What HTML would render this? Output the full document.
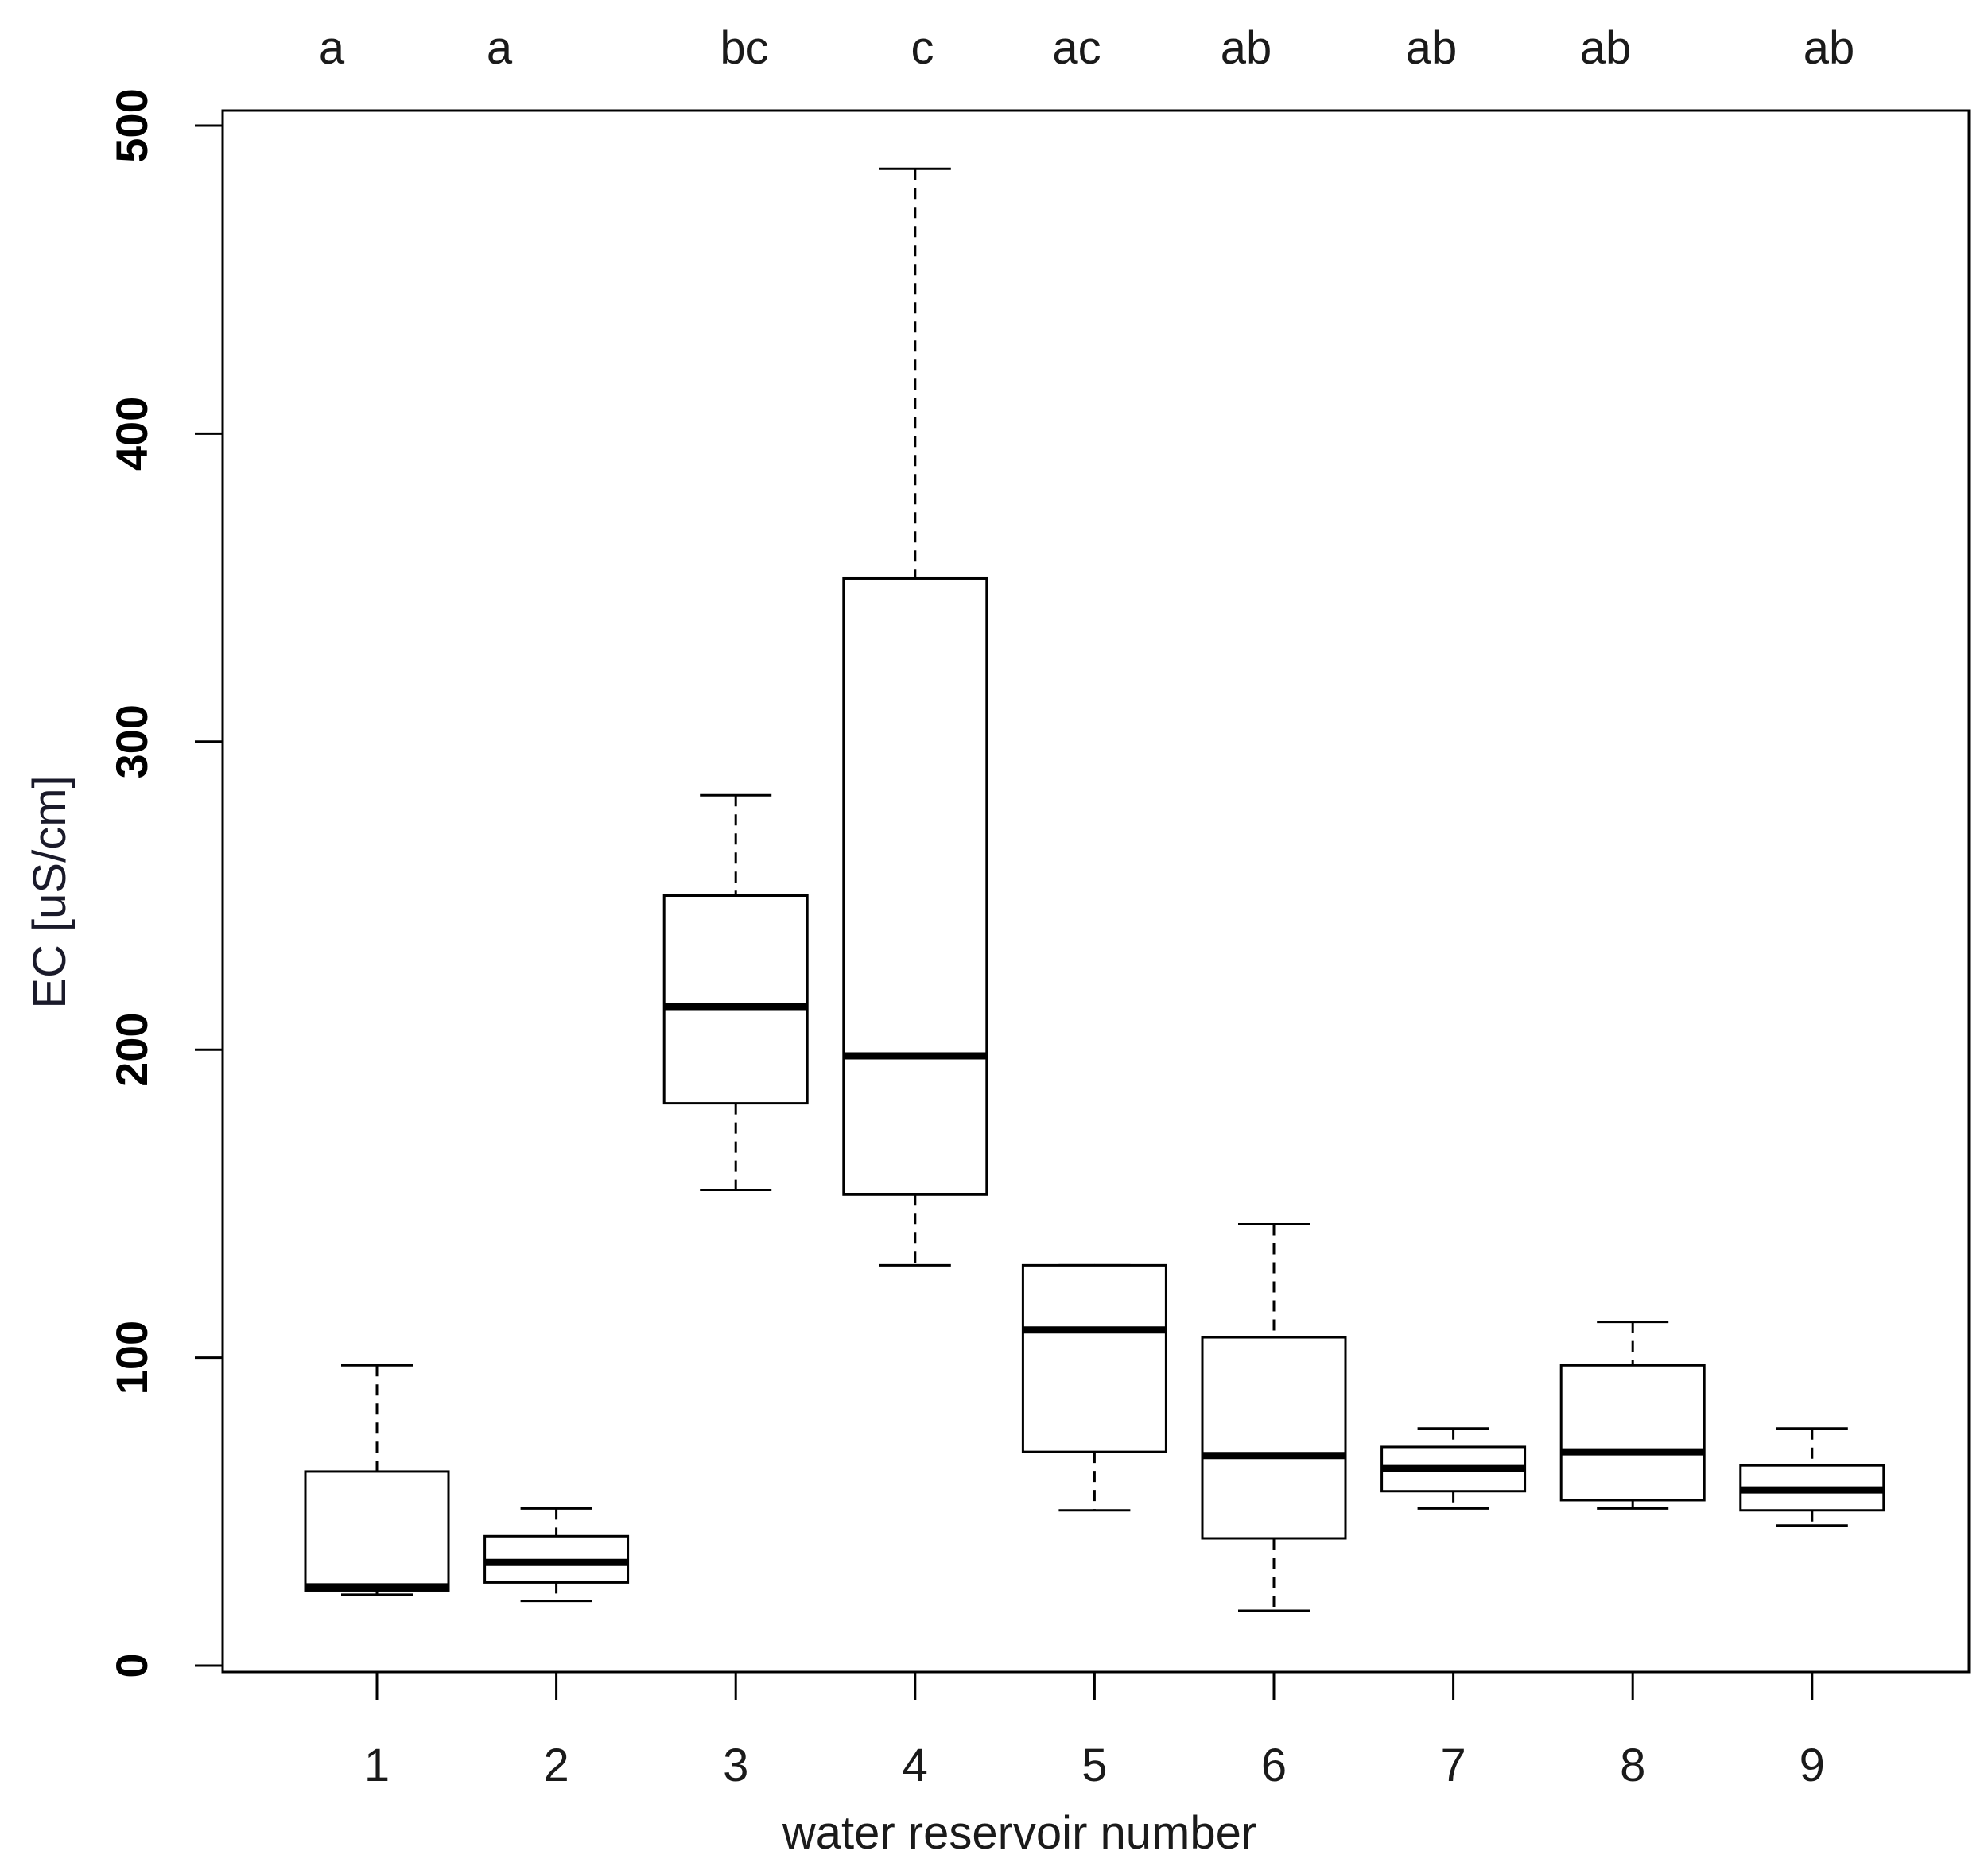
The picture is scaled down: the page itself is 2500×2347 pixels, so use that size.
<!DOCTYPE html>
<html><head><meta charset="utf-8"><style>
html,body{margin:0;padding:0;background:#fff;}
svg{display:block;font-family:"Liberation Sans",sans-serif;}
</style></head><body>
<svg id="chart" width="2500" height="2347" viewBox="0 0 2500 2347" xmlns="http://www.w3.org/2000/svg">
<rect width="2500" height="2347" fill="#fff"/>
<rect x="280" y="139" width="2196" height="1964" fill="none" stroke="#000" stroke-width="3"/>
<g id="marks"></g>
<text x="1282" y="2325" font-size="58" text-anchor="middle" fill="#1a1a1a">water reservoir number</text>
<text transform="translate(82,1122) rotate(-90)" font-size="58" text-anchor="middle" fill="#1a1a2a">EC [uS/cm]</text>
</svg>
<script>
const categories = ["1","2","3","4","5","6","7","8","9"];
const whiskerLow = [23, 21, 154.5, 130, 50.4, 17.8, 51, 51, 45.5];
const q1 = [24.4, 27, 182.6, 153, 69.4, 41.3, 56.6, 53.7, 50.4];
const medians = [25.6, 33.5, 214, 198, 109, 68.2, 64, 69.4, 57];
const q3 = [63, 42, 250, 353, 130, 106.6, 71, 97.5, 65];
const whiskerHigh = [97.5, 51, 282.6, 486, 130, 143.4, 77, 111.6, 77];
const groupLetters = ["a","a","bc","c","ac","ab","ab","ab","ab"];
const letterX = [417, 628, 936, 1160, 1354, 1567, 1800, 2019, 2300];
const yTicks = [0, 100, 200, 300, 400, 500];

const NS = "http://www.w3.org/2000/svg";
const g = document.getElementById("marks");
const y = v => 2095 - v * 3.874;
const x = i => 474 + i * 225.6;
function mk(tag, attrs, parent) {
  const e = document.createElementNS(NS, tag);
  for (const k in attrs) e.setAttribute(k, attrs[k]);
  (parent || g).appendChild(e);
  return e;
}
yTicks.forEach(t => {
  const l = mk("line", {x1: 245, x2: 280, y1: y(t), y2: y(t), stroke: "#000", "stroke-width": 3});
  
  
  const tx = mk("text", {transform: `translate(185,${y(t)}) rotate(-90)`, "font-size": 56, "font-weight": "bold", "text-anchor": "middle"});
  tx.textContent = t;
  
  
});
categories.forEach((c, i) => {
  const l = mk("line", {x1: x(i), x2: x(i), y1: 2103, y2: 2138, stroke: "#000", "stroke-width": 3});
  
  
  const tx = mk("text", {x: x(i), y: 2240, "font-size": 58, "text-anchor": "middle", fill: "#1a1a1a"});
  tx.textContent = c;
  
  
  const lt = mk("text", {x: letterX[i], y: 80, "font-size": 58, "text-anchor": "middle", fill: "#1a1a1a"});
  lt.textContent = groupLetters[i];
  
  
  const bg = mk("g", {});
  
  
  const cx = x(i), hw = 90, cw = 45;
  mk("line", {x1: cx, x2: cx, y1: y(whiskerHigh[i]), y2: y(q3[i]), stroke: "#000", "stroke-width": 3, "stroke-dasharray": "14,10"}, bg);
  mk("line", {x1: cx, x2: cx, y1: y(q1[i]), y2: y(whiskerLow[i]), stroke: "#000", "stroke-width": 3, "stroke-dasharray": "14,10"}, bg);
  mk("line", {x1: cx - cw, x2: cx + cw, y1: y(whiskerHigh[i]), y2: y(whiskerHigh[i]), stroke: "#000", "stroke-width": 3}, bg);
  mk("line", {x1: cx - cw, x2: cx + cw, y1: y(whiskerLow[i]), y2: y(whiskerLow[i]), stroke: "#000", "stroke-width": 3}, bg);
  mk("rect", {x: cx - hw, y: y(q3[i]), width: 2 * hw, height: y(q1[i]) - y(q3[i]), fill: "#fff", stroke: "#000", "stroke-width": 3}, bg);
  mk("line", {x1: cx - hw, x2: cx + hw, y1: y(medians[i]), y2: y(medians[i]), stroke: "#000", "stroke-width": 9}, bg);
});
</script>
</body></html>
